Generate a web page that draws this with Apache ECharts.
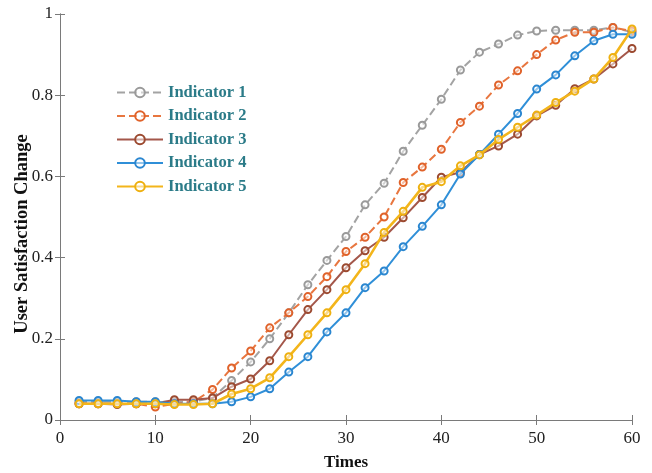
<!DOCTYPE html>
<html><head><meta charset="utf-8">
<script src="https://cdn.jsdelivr.net/npm/echarts@6/dist/echarts.min.js"></script>
<style>html,body{margin:0;padding:0;background:#fff}#c{width:652px;height:473px}</style>
</head><body><div id="c"></div>
<script>
const times = [2,4,6,8,10,12,14,16,18,20,22,24,26,28,30,32,34,36,38,40,42,44,46,48,50,52,54,56,58,60];
const indicator1 = [0.045,0.045,0.045,0.045,0.045,0.045,0.045,0.055,0.097,0.143,0.2,0.264,0.333,0.393,0.452,0.53,0.583,0.662,0.726,0.79,0.862,0.906,0.926,0.948,0.958,0.96,0.96,0.96,0.967,0.955];
const indicator2 = [0.04,0.04,0.04,0.04,0.032,0.04,0.045,0.075,0.128,0.17,0.227,0.264,0.304,0.353,0.415,0.45,0.5,0.585,0.623,0.667,0.733,0.773,0.825,0.86,0.9,0.936,0.955,0.955,0.967,0.958];
const indicator3 = [0.04,0.04,0.038,0.04,0.04,0.05,0.05,0.054,0.082,0.101,0.146,0.21,0.272,0.321,0.375,0.417,0.45,0.498,0.548,0.598,0.61,0.654,0.675,0.704,0.749,0.775,0.816,0.84,0.877,0.915];
const indicator4 = [0.048,0.048,0.048,0.045,0.045,0.04,0.04,0.04,0.045,0.057,0.077,0.118,0.156,0.217,0.264,0.326,0.367,0.427,0.477,0.53,0.606,0.654,0.704,0.755,0.815,0.85,0.897,0.934,0.95,0.95];
const indicator5 = [0.04,0.04,0.04,0.04,0.04,0.038,0.038,0.04,0.064,0.077,0.104,0.156,0.21,0.264,0.321,0.385,0.462,0.514,0.573,0.587,0.626,0.653,0.691,0.721,0.751,0.782,0.81,0.84,0.893,0.963];
const seriesNames = ['Indicator 1','Indicator 2','Indicator 3','Indicator 4','Indicator 5'];
const xTicks = [0,10,20,30,40,50,60];
const yTicks = [0,0.2,0.4,0.6,0.8,1];

const colors = ['#a3a3a3','#e8763f','#a4574a','#2f8fd8','#f3b51b'];
const symColors = ['#9a9a9a','#e0622a','#9c4a30','#2a86d0','#eeb010'];
const dashes = ['dashed','dashed','solid','solid','solid'];
const widths = [2,2,2,2,2.6];
const datas = [indicator1,indicator2,indicator3,indicator4,indicator5];
const serif = '"Liberation Serif","DejaVu Serif",serif';

const chart = echarts.init(document.getElementById('c'));
const axisLineStyle = {color:'#7a7a7a', width:1};
chart.setOption({
  animation:false,
  backgroundColor:'#fff',
  grid:{left:60, right:20, top:14, bottom:53, containLabel:false, outerBoundsMode:'none'},
  legend:{
    orient:'vertical', left:111, top:79, itemGap:6.5, itemWidth:46, itemHeight:12,
    data:seriesNames,
    textStyle:{fontFamily:serif, fontWeight:'bold', fontSize:16.5, color:'#2b7b88'}
  },
  xAxis:[{
    type:'value', min:0, max:60, interval:10, position:'bottom',
    name:'Times', nameLocation:'middle', nameGap:34, nameMoveOverlap:false,
    nameTextStyle:{fontFamily:serif, fontWeight:'bold', fontSize:17, color:'#111'},
    axisLine:{show:true, lineStyle:axisLineStyle},
    axisTick:{show:true, inside:true, length:5, lineStyle:axisLineStyle},
    axisLabel:{fontFamily:serif, fontSize:17, color:'#222', margin:10,
      formatter:v=>xTicks.includes(v)?String(v):''},
    splitLine:{show:false}
  },{
    type:'value', min:0, max:60, interval:10, position:'top',
    axisLine:{show:true, lineStyle:axisLineStyle},
    axisTick:{show:true, inside:true, length:5, lineStyle:axisLineStyle},
    axisLabel:{show:false}, splitLine:{show:false}
  }],
  yAxis:[{
    type:'value', min:0, max:1, interval:0.2, position:'left',
    name:'User Satisfaction Change', nameLocation:'middle', nameGap:28, nameRotate:90, nameMoveOverlap:false,
    nameTextStyle:{fontFamily:serif, fontWeight:'bold', fontSize:18.5, color:'#111', padding:[0,0,0,-34]},
    axisLine:{show:true, lineStyle:axisLineStyle},
    axisTick:{show:true, inside:true, length:5, lineStyle:axisLineStyle},
    axisLabel:{fontFamily:serif, fontSize:17, color:'#222', margin:7,
      formatter:v=>{const t=yTicks.find(y=>Math.abs(y-v)<1e-9); return t===undefined?'':String(t);}},
    splitLine:{show:false}
  },{
    type:'value', min:0, max:1, interval:0.2, position:'right',
    axisLine:{show:true, lineStyle:axisLineStyle},
    axisTick:{show:true, inside:true, length:5, lineStyle:axisLineStyle},
    axisLabel:{show:false}, splitLine:{show:false}
  }],
  series: seriesNames.map((n,i)=>({
    name:n, type:'line', xAxisIndex:0, yAxisIndex:0,
    data: times.map((t,k)=>[t, datas[i][k]]),
    symbol:'circle', symbolSize:7, showSymbol:true,
    lineStyle:{color:colors[i], width:widths[i], type:dashes[i]},
    itemStyle:{color:'rgba(255,255,255,0.5)', borderColor:symColors[i], borderWidth:2},
    color:colors[i],
    z: [2,3,4,5,6][i]
  }))
});
</script></body></html>
